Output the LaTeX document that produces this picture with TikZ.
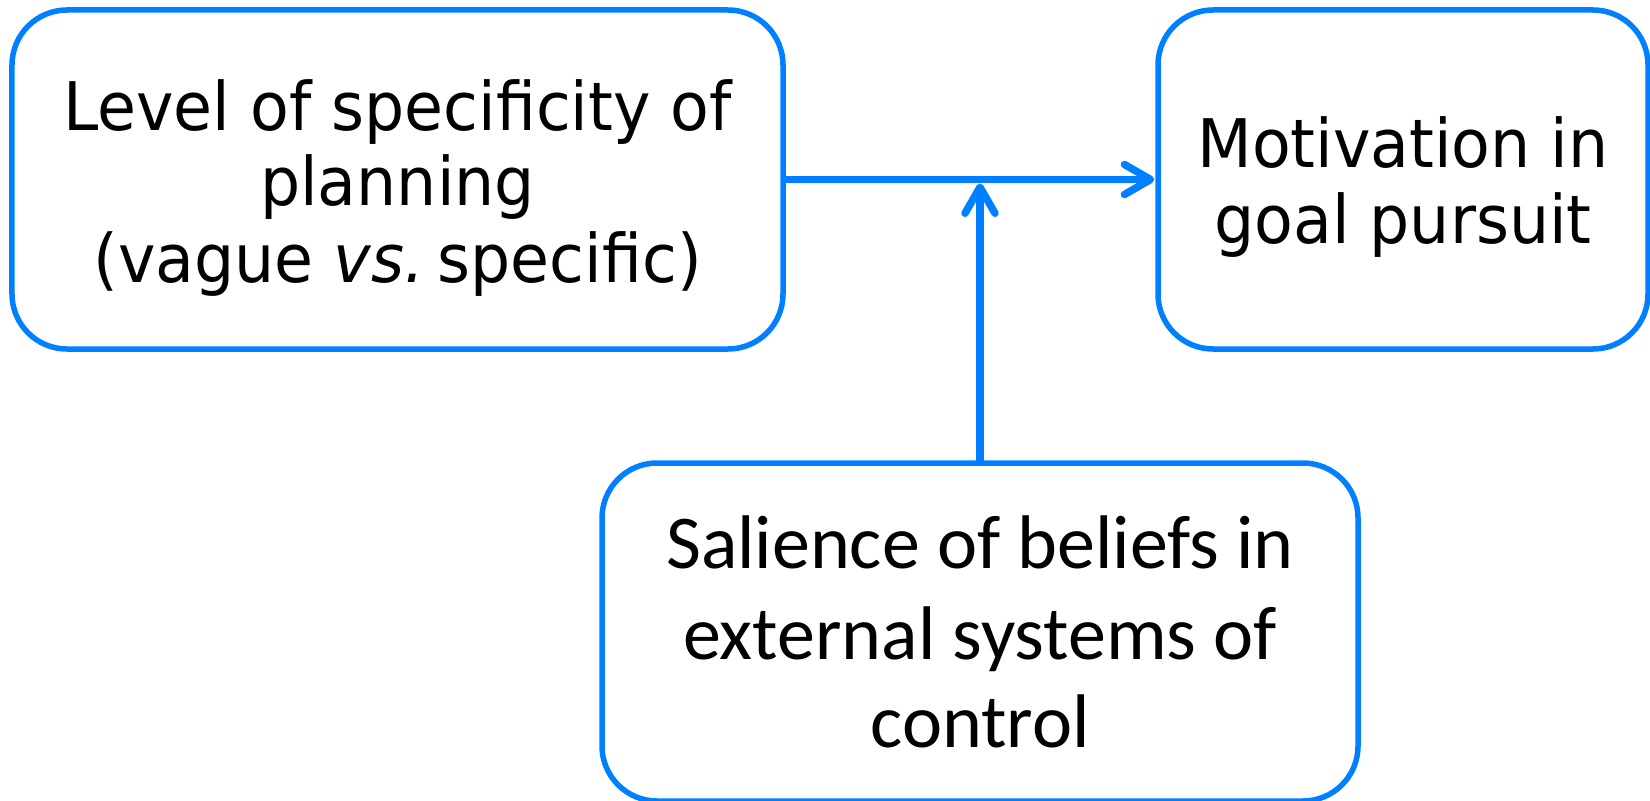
\documentclass[tikz,border=0pt]{standalone}
\usepackage{fontspec}
\setmainfont[FakeStretch=0.945]{DejaVu Sans}
\newfontfamily\calib{Carlito}
\usetikzlibrary{arrows.meta}
\definecolor{boxblue}{RGB}{0,128,255}
\tikzset{
  rbox/.style={draw=boxblue, line width=5.5bp, rounded corners=55bp, inner sep=0pt, fill=white},
  toptext/.style={anchor=base, inner sep=0pt, font=\fontsize{67bp}{76bp}\selectfont},
  bottext/.style={anchor=base, inner sep=0pt, font=\calib\fontsize{76bp}{89bp}\selectfont},
  arr/.style={draw=boxblue, line width=7.5bp, line cap=round, line join=round,
    -{Straight Barb[length=26bp, width=30bp, line cap=round, line join=round]}}
}
\begin{document}
\begin{tikzpicture}[x=1bp, y=-1bp]
\useasboundingbox (0,0) rectangle (1650,801);
\fill[white] (0,0) rectangle (1650,801);
\node[rbox, minimum width=771bp, minimum height=339bp] (b1) at (397.5,179.5) {};
\node[rbox, minimum width=490bp, minimum height=339bp] (b2) at (1403,179.5) {};
\node[rbox, minimum width=756bp, minimum height=338bp] (b3) at (980,632) {};
\node[toptext] (t1a) at (397.5,130) {Level of specificity of};
\node[toptext] (t1b) at (397.5,205) {planning};
\node[toptext] (t1c) at (397.5,282) {(vague \textit{vs.}\kern-0.1em\ specific)};
\node[toptext] (t2a) at (1403,167) {Motivation in};
\node[toptext] (t2b) at (1403,243) {goal pursuit};
\node[bottext] (t3a) at (980,568) {Salience of beliefs in};
\node[bottext] (t3b) at (980,659) {external systems of};
\node[bottext] (t3c) at (980,747) {control};
\coordinate (meet) at (b3.north |- b1.east);
\draw[arr] (b1.east) -- ([xshift=-1bp]b2.west);
\draw[arr] (b3.north) -- ([yshift=-4bp]meet);
\end{tikzpicture}
\end{document}
